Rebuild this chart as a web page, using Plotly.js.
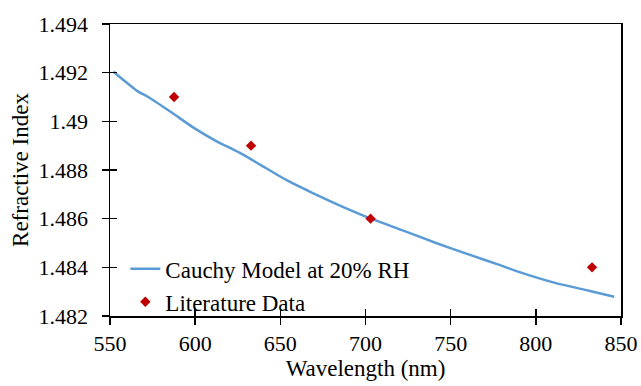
<!DOCTYPE html>
<html>
<head>
<meta charset="utf-8">
<script src="https://cdn.plot.ly/plotly-3.0.1.min.js"></script>
<style>html,body{margin:0;padding:0;background:#fff;}#chart{width:641px;height:386px;}</style>
</head>
<body>
<div id="chart"></div>
<script>
// Cauchy model curve
const modelWavelength = [552, 566.6, 572.5, 586.2, 599.9, 611.6, 627.3, 638.1, 653.7, 669.4, 685.0, 702.6, 722.2, 741.8, 761.4, 779.0, 792.7, 812.3, 831.8, 846.0];
const modelIndex = [1.49204, 1.49122, 1.49100, 1.49036, 1.48970, 1.48922, 1.48866, 1.48822, 1.48758, 1.48704, 1.48654, 1.48602, 1.48551, 1.48499, 1.48451, 1.48409, 1.48375, 1.48334, 1.48303, 1.48279];
// Literature data points
const litWavelength = [587.6, 632.8, 703, 833];
const litIndex = [1.491, 1.489, 1.486, 1.484];
// Axis ticks
const xTicks = [550, 600, 650, 700, 750, 800, 850];
const yTicks = [1.482, 1.484, 1.486, 1.488, 1.49, 1.492, 1.494];
const yTickLabels = ["1.482", "1.484", "1.486", "1.488", "1.49", "1.492", "1.494"];

const fontFam = '"Liberation Serif", "Times New Roman", serif';

const traces = [
  {
    x: modelWavelength, y: modelIndex, type: 'scatter', mode: 'lines',
    name: 'Cauchy Model at 20% RH',
    line: {color: '#5B9BD5', width: 2.5, shape: 'spline', smoothing: 0.6},
    xaxis: 'x', yaxis: 'y'
  },
  {
    x: litWavelength, y: litIndex, type: 'scatter', mode: 'markers',
    name: 'Literature Data',
    marker: {symbol: 'diamond', color: '#C00000', size: 8},
    xaxis: 'x2', yaxis: 'y2'
  }
];

const common = {
  showgrid: false, zeroline: false, showline: true, linecolor: '#000', linewidth: 1.5,
  tickcolor: '#000', tickwidth: 1.5, ticklen: 7
};

const layout = {
  width: 641, height: 386,
  margin: {l: 110, r: 20, t: 24, b: 70},
  paper_bgcolor: '#fff', plot_bgcolor: '#fff',
  font: {family: fontFam, size: 22, color: '#000'},
  xaxis: Object.assign({}, common, {
    range: [550, 850], tickvals: xTicks, ticktext: xTicks.map(String), ticks: 'outside', mirror: true,
    title: {text: 'Wavelength (nm)', font: {family: fontFam, size: 23}, standoff: 5},
    tickfont: {family: fontFam, size: 22}
  }),
  yaxis: Object.assign({}, common, {
    range: [1.482, 1.494], tickvals: yTicks, ticktext: yTickLabels, ticks: 'outside', mirror: true,
    ticklabelstandoff: 9,
    title: {text: 'Refractive Index', font: {family: fontFam, size: 23}, standoff: 3},
    tickfont: {family: fontFam, size: 22}
  }),
  xaxis2: Object.assign({}, common, {
    range: [550, 850], tickvals: xTicks, ticks: 'inside', showticklabels: false,
    overlaying: 'x', anchor: 'y2', side: 'bottom', showline: false
  }),
  yaxis2: Object.assign({}, common, {
    range: [1.482, 1.494], tickvals: yTicks, ticks: 'inside', showticklabels: false,
    overlaying: 'y', anchor: 'x2', side: 'left', showline: false
  }),
  showlegend: true,
  legend: {
    x: 0.03, y: 0.235, xanchor: 'left', yanchor: 'top',
    bgcolor: 'rgba(0,0,0,0)', font: {family: fontFam, size: 23, color: '#000'},
    tracegroupgap: 0
  }
};

Plotly.newPlot('chart', traces, layout, {displayModeBar: false, staticPlot: true});
</script>
</body>
</html>
